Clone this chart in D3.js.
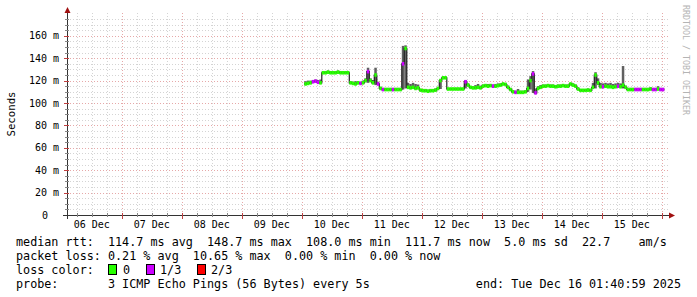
<!DOCTYPE html>
<html>
<head>
  <meta charset="utf-8">
  <script src="https://d3js.org/d3.v7.min.js"></script>
</head>
<style>
  body { margin: 0; background: #fff; }
  text { font-family: "DejaVu Sans Mono", monospace; white-space: pre; }
</style>
<body>
  <svg width="697" height="297"></svg>

  <script>
    // Series: one value per hour, starting 10 Dec 01:00 (UTC)
    const seriesStart = Date.UTC(2025, 11, 10, 1, 0, 0);
    const medianMs = [
      117, 117.5, 118, 119, 119.5, 118.5, 118,
      127, 127, 127.5, 127, 127, 127, 127.5, 127, 127, 127, 127,
      118, 117.5, 117, 118, 117.5, 118, 120, 128, 120, 118, 125, 117,
      113, 112, 112, 112, 112, 112, 112, 112, 112,
      135, 148.7, 114, 113.5, 114, 113, 113.5,
      111.5, 111, 111, 110.5, 111, 111, 111.5,
      113, 120, 122.5, 122.5,
      112.5, 112.5, 112.5, 112.5, 112.5, 112.5, 112.5,
      119, 116, 114, 113.5, 113.5, 114, 113.5,
      115, 115.5, 115, 115.5, 115, 115, 115.5, 116, 117, 116.5,
      114, 112, 110, 109.5, 109.5, 109.5, 109.5, 110,
      113, 120, 126, 109, 113, 114,
      115, 115, 115.5, 115, 115, 114.5, 115, 115, 115.5, 115, 115, 117, 116, 115,
      112.5, 111.3, 111.3, 111.3, 111.5, 111.3,
      114, 125, 118,
      114.5, 114.5, 115, 114.5, 114.5, 114, 114.5, 115, 114.5,
      116, 114,
      112, 112, 112, 112, 112, 112, 112, 112, 112, 112.5, 112, 112, 112.5, 112, 112
    ];
    const maxMs = [
      119.5, 120, 120, 120.5, 121, 120.5, 121,
      128.5, 128.5, 129, 128.5, 128.5, 128.5, 129, 128.5, 128.5, 128.5, 128.5,
      119.5, 119, 119.5, 119.5, 119, 120, 122, 131.5, 122, 120.5, 131.5, 119,
      114.5, 113.5, 113.5, 113.5, 113.5, 113.5, 113.5, 113.5, 113.5,
      151, 151.5, 118, 117, 118, 117, 116.5,
      112.5, 112.5, 112.5, 112, 112.5, 112.5, 113,
      114, 121.5, 123.5, 123.5,
      113.5, 113.5, 113.5, 113.5, 113.5, 113.5, 113.5,
      120.5, 117.5, 115, 115, 116, 117, 115.5,
      116.5, 117, 117, 117, 116.5, 117, 117.5, 117.5, 118, 118,
      115.5, 113.5, 111.5, 111, 112.5, 111, 111, 111.5,
      121, 124, 128.5, 113, 115, 116,
      116.5, 116.5, 117, 116.5, 116.5, 116, 116.5, 116.5, 117, 116.5, 116.5, 118, 117.5, 116.5,
      114, 112.5, 112.5, 112.5, 113, 112.5,
      118, 127.5, 122,
      118, 117.5, 118, 117.5, 118, 117, 117.5, 118, 117.5,
      133, 115.5,
      113.5, 113.5, 113.5, 113.5, 113.5, 113.5, 113.5, 113.5, 113.5, 114, 113.5, 113.5, 115, 113.5, 113.5
    ];
    const minMs = [
      116, 116.5, 117, 118, 118.5, 117.5, 117,
      126, 126, 126.5, 126, 126, 126, 126.5, 126, 126, 126, 126,
      117, 116.5, 116, 117, 116.5, 117, 118.5, 118, 119, 117, 116, 116,
      112, 111, 111, 111, 111, 111, 111, 111, 111,
      112, 113, 113, 112.5, 113, 112, 112.5,
      110.5, 110, 110, 109.5, 110, 110, 110.5,
      112, 112.5, 121.5, 121.5,
      111.5, 111.5, 111.5, 111.5, 111.5, 111.5, 111.5,
      113, 115, 113, 112.5, 112.5, 113, 112.5,
      114, 114.5, 114, 114.5, 114, 114, 114.5, 115, 116, 115.5,
      113, 111, 109, 108.5, 108.5, 108.5, 108.5, 109,
      110, 112, 109, 108, 112, 113,
      114, 114, 114.5, 114, 114, 113.5, 114, 114, 114.5, 114, 114, 116, 115, 114,
      111.5, 110.3, 110.3, 110.3, 110.5, 110.3,
      113, 113, 116,
      113.5, 113.5, 114, 113.5, 113.5, 113, 113.5, 114, 113.5,
      113, 113,
      111, 111, 111, 111, 111, 111, 111, 111, 111, 111.5, 111, 111, 111.5, 111, 111
    ];
    // lost pings per round of 3
    const lossLevel = [
      0, 0, 0, 1, 1, 1, 0,
      0, 0, 0, 0, 0, 0, 0, 0, 0, 0, 0,
      0, 0, 0, 0, 1, 0, 0, 1, 0, 0, 0, 1,
      0, 1, 0, 0, 0, 1, 0, 0, 0,
      1, 0, 0, 0, 0, 0, 0,
      0, 0, 0, 0, 0, 0, 0,
      0, 0, 0, 0,
      0, 0, 0, 0, 0, 0, 0,
      1, 0, 0, 0, 0, 0, 0,
      0, 0, 0, 0, 1, 0, 0, 0, 0, 0,
      0, 0, 0, 1, 0, 0, 0, 0,
      0, 0, 1, 1, 0, 0,
      0, 0, 0, 0, 0, 0, 0, 0, 0, 0, 0, 0, 0, 0,
      0, 0, 0, 0, 0, 0,
      0, 0, 0,
      0, 1, 0, 0, 0, 0, 0, 1, 0,
      0, 0,
      0, 0, 0, 1, 1, 1, 0, 0, 0, 0, 1, 1, 0, 1, 1
    ];
    const lossColors = ['#26ff00', '#cc00ff', '#ff0000'];
    const lossLabels = ['0', '1/3', '2/3'];

    const yTickValues = [0, 20, 40, 60, 80, 100, 120, 140, 160];

    const legendRtt = 'median rtt:  114.7 ms avg  148.7 ms max  108.0 ms min  111.7 ms now  5.0 ms sd  22.7    am/s';
    const legendLoss = 'packet loss: 0.21 % avg  10.65 % max  0.00 % min  0.00 % now';
    const legendProbe = 'probe:       3 ICMP Echo Pings (56 Bytes) every 5s';
    const legendEnd = 'end: Tue Dec 16 01:40:59 2025';

    const endTime = Date.UTC(2025, 11, 16, 1, 40, 59);
    const startTime = endTime - 10 * 24 * 3600 * 1000;
    const hour = 3600 * 1000;

    // keep runs of spaces in the legend
    const nb = s => s.replace(/ /g, '\u00a0');

    const svg = d3.select('svg');
    svg.append('rect').attr('width', 697).attr('height', 297).attr('fill', '#fff');

    const x = d3.scaleUtc().domain([startTime, endTime]).range([66, 666]);
    const y = d3.scaleLinear().domain([0, 180]).range([215, 13.4]);

    const grid = svg.append('g');
    // minor grid
    d3.utcHour.every(6).range(new Date(startTime), new Date(endTime)).forEach(t => {
      if (t.getUTCHours() === 0) return;
      grid.append('line').attr('x1', Math.round(x(t)) + 0.5).attr('x2', Math.round(x(t)) + 0.5)
        .attr('y1', 13).attr('y2', 215).attr('stroke', '#d4d4d4').attr('stroke-dasharray', '1,2');
    });
    d3.range(5, 180, 5).forEach(v => {
      if (v % 20 === 0) return;
      grid.append('line').attr('x1', 67).attr('x2', 668)
        .attr('y1', Math.round(y(v)) + 0.5).attr('y2', Math.round(y(v)) + 0.5)
        .attr('stroke', '#d4d4d4').attr('stroke-dasharray', '1,2');
    });
    // major grid
    d3.utcDay.range(new Date(startTime), new Date(endTime)).forEach(t => {
      grid.append('line').attr('x1', Math.round(x(t)) + 0.5).attr('x2', Math.round(x(t)) + 0.5)
        .attr('y1', 13).attr('y2', 218).attr('stroke', '#e6a8a8').attr('stroke-dasharray', '1,2');
    });
    yTickValues.slice(1).forEach(v => {
      grid.append('line').attr('x1', 64).attr('x2', 668)
        .attr('y1', Math.round(y(v)) + 0.5).attr('y2', Math.round(y(v)) + 0.5)
        .attr('stroke', '#e6a8a8').attr('stroke-dasharray', '1,2');
    });

    const pts = medianMs.map((m, i) => ({
      t: seriesStart + i * hour, med: m, max: maxMs[i], min: minMs[i], loss: lossLevel[i]
    }));

    // smoke
    svg.append('g').selectAll('rect').data(pts).enter().append('rect')
      .attr('x', d => x(d.t))
      .attr('width', d => x(d.t + hour) - x(d.t))
      .attr('y', d => y(d.max))
      .attr('height', d => y(d.min) - y(d.max))
      .attr('fill', '#606060');

    // median line
    const stepPts = pts.concat([{t: pts[pts.length - 1].t + hour, med: pts[pts.length - 1].med}]);
    svg.append('path').datum(stepPts)
      .attr('d', d3.line().x(d => x(d.t)).y(d => y(d.med)).curve(d3.curveStepAfter))
      .attr('fill', 'none').attr('stroke', '#202020').attr('stroke-width', 1.2);

    // loss coloured median band
    svg.append('g').selectAll('rect').data(pts).enter().append('rect')
      .attr('x', d => x(d.t))
      .attr('width', d => x(d.t + hour) - x(d.t))
      .attr('y', d => y(d.med) - 1.8)
      .attr('height', 3.6)
      .attr('fill', d => lossColors[d.loss]);

    // axes
    const axis = svg.append('g');
    axis.append('line').attr('x1', 63).attr('x2', 670).attr('y1', 215.5).attr('y2', 215.5).attr('stroke', '#333');
    axis.append('line').attr('x1', 67.5).attr('x2', 67.5).attr('y1', 12).attr('y2', 219).attr('stroke', '#333');
    axis.append('path').attr('d', 'M67.5,7 L64.5,13 L70.5,13 Z').attr('fill', '#a01010');
    axis.append('path').attr('d', 'M675,215.5 L669,212.5 L669,218.5 Z').attr('fill', '#a01010');

    d3.utcHour.every(6).range(new Date(startTime), new Date(endTime)).forEach(t => {
      const major = t.getUTCHours() === 0;
      axis.append('line').attr('x1', Math.round(x(t)) + 0.5).attr('x2', Math.round(x(t)) + 0.5)
        .attr('y1', 213).attr('y2', major ? 219 : 217)
        .attr('stroke', major ? '#c04040' : '#888');
    });
    d3.range(5, 180, 5).forEach(v => {
      const major = v % 20 === 0;
      axis.append('line').attr('x1', major ? 64 : 65).attr('x2', 69)
        .attr('y1', Math.round(y(v)) + 0.5).attr('y2', Math.round(y(v)) + 0.5)
        .attr('stroke', major ? '#c04040' : '#888');
    });

    // tick labels: day names centred on midday
    d3.utcDay.range(d3.utcDay.floor(new Date(startTime)), d3.utcDay.floor(new Date(endTime))).forEach(t => {
      svg.append('text').attr('x', x(t.getTime() + 12 * hour)).attr('y', 228)
        .attr('text-anchor', 'middle').style('font-size', '10px').attr('fill', '#000')
        .text(d3.utcFormat('%d %b')(t));
    });
    yTickValues.forEach(v => {
      svg.append('text').attr('x', v === 0 ? 48 : 59).attr('y', y(v) + 3.6)
        .attr('text-anchor', 'end').style('font-size', '10px').attr('fill', '#000')
        .text(nb(v === 0 ? '0' : v + ' m'));
    });

    svg.append('text').attr('transform', 'translate(15,114) rotate(-90)')
      .attr('text-anchor', 'middle').style('font-size', '10.7px').attr('fill', '#000')
      .text('Seconds');

    svg.append('text').attr('transform', 'translate(683,5) rotate(90)')
      .style('font-size', '8.3px').attr('fill', '#b4b4b4')
      .text('RRDTOOL / TOBI OETIKER');

    // legend
    const fs = '11.75px';
    const leg = svg.append('g').attr('fill', '#000').style('font-size', fs);
    leg.append('text').attr('x', 16).attr('y', 245.5).text(nb(legendRtt));
    leg.append('text').attr('x', 16).attr('y', 259.5).text(nb(legendLoss));
    leg.append('text').attr('x', 16).attr('y', 273.5).text(nb('loss color:'));
    const boxX = [108.5, 146.5, 197.5];
    const labX = [123, 160, 211];
    lossColors.forEach((c, i) => {
      leg.append('rect').attr('x', boxX[i]).attr('y', 264.5).attr('width', 8).attr('height', 10)
        .attr('fill', c).attr('stroke', '#000');
      leg.append('text').attr('x', labX[i]).attr('y', 273.5).text(lossLabels[i]);
    });
    leg.append('text').attr('x', 16).attr('y', 287.5).text(nb(legendProbe));
    leg.append('text').attr('x', 681).attr('y', 287.5).attr('text-anchor', 'end').text(nb(legendEnd));
  </script>
</body>
</html>
